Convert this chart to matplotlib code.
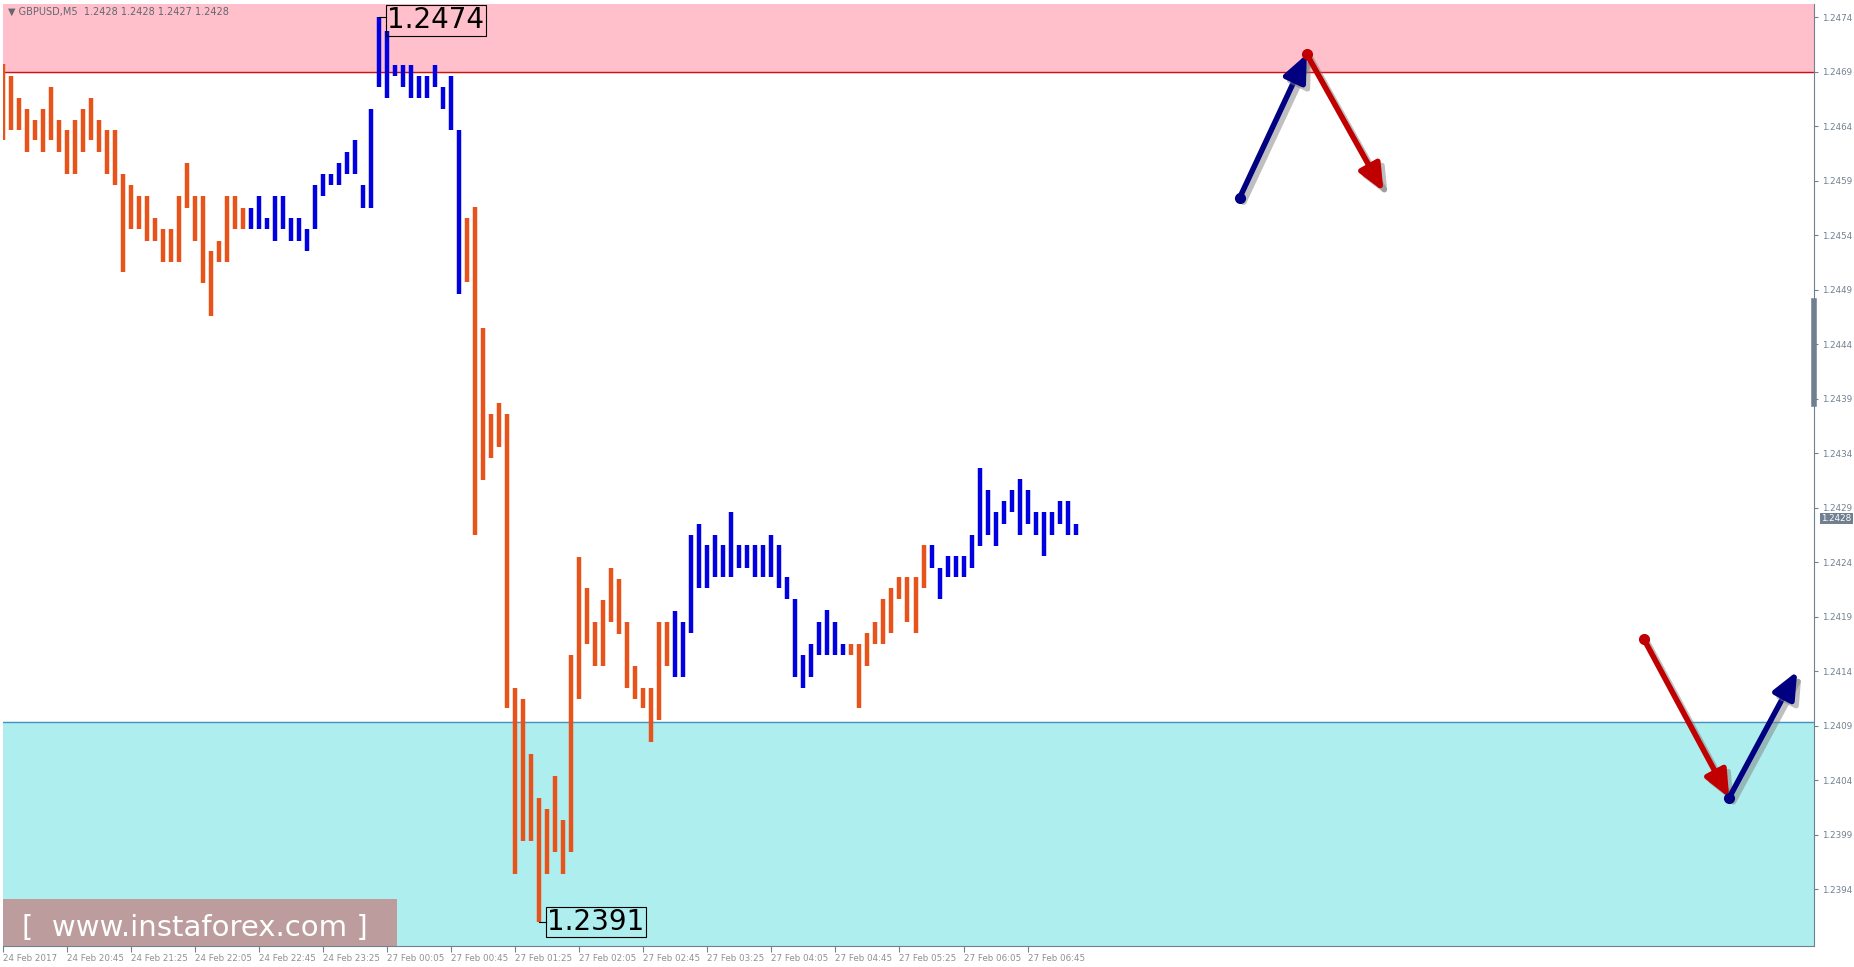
import matplotlib
matplotlib.use("Agg")
import matplotlib.pyplot as plt
from matplotlib.patches import Rectangle
import matplotlib.patheffects as pe

highs = [1.24697,1.24686,1.24666,1.24656,1.24646,1.24656,1.24676,1.24646,1.24636,1.24646,
         1.24656,1.24666,1.24646,1.24636,1.24636,1.24596,1.24586,1.24576,1.24576,1.24556,
         1.24546,1.24546,1.24576,1.24606,1.24576,1.24576,1.24525,1.24535,1.24576,1.24576,
         1.24565,1.24565,1.24576,1.24556,1.24576,1.24576,1.24556,1.24556,1.24546,1.24586,
         1.24596,1.24596,1.24606,1.24616,1.24627,1.24586,1.24656,1.2474,1.24727,1.24696,
         1.24696,1.24696,1.24686,1.24686,1.24696,1.24676,1.24686,1.24636,1.24556,1.24566,
         1.24455,1.24376,1.24386,1.24376,1.24125,1.24115,1.24064,1.24024,1.24014,1.24044,
         1.24004,1.24155,1.24245,1.24216,1.24185,1.24205,1.24235,1.24225,1.24185,1.24145,
         1.24125,1.24125,1.24185,1.24185,1.24195,1.24185,1.24265,1.24275,1.24256,1.24265,
         1.24256,1.24286,1.24256,1.24256,1.24256,1.24256,1.24265,1.24256,1.24226,1.24206,
         1.24155,1.24165,1.24185,1.24196,1.24185,1.24165,1.24165,1.24165,1.24175,1.24185,
         1.24206,1.24216,1.24226,1.24226,1.24226,1.24256,1.24256,1.24235,1.24246,1.24246,
         1.24246,1.24265,1.24326,1.24306,1.24286,1.24296,1.24306,1.24316,1.24306,1.24286,
         1.24286,1.24286,1.24296,1.24296,1.24275]
lows = [1.24627,1.24636,1.24636,1.24616,1.24627,1.24616,1.24627,1.24616,1.24596,1.24596,
        1.24616,1.24627,1.24616,1.24596,1.24586,1.24506,1.24546,1.24546,1.24535,1.24535,
        1.24515,1.24515,1.24515,1.24565,1.24535,1.24496,1.24466,1.24515,1.24515,1.24546,
        1.24546,1.24546,1.24546,1.24546,1.24535,1.24546,1.24535,1.24535,1.24525,1.24546,
        1.24576,1.24586,1.24586,1.24596,1.24596,1.24565,1.24565,1.24676,1.24666,1.24686,
        1.24676,1.24666,1.24666,1.24666,1.24676,1.24656,1.24636,1.24486,1.24497,1.24265,
        1.24315,1.24336,1.24346,1.24106,1.23954,1.23984,1.23984,1.2391,1.23954,1.23974,
        1.23954,1.23974,1.24115,1.24165,1.24145,1.24145,1.24185,1.24174,1.24125,1.24115,
        1.24106,1.24075,1.24095,1.24145,1.24135,1.24135,1.24175,1.24216,1.24216,1.24226,
        1.24226,1.24226,1.24235,1.24235,1.24226,1.24226,1.24226,1.24216,1.24206,1.24135,
        1.24125,1.24135,1.24155,1.24155,1.24155,1.24155,1.24155,1.24106,1.24145,1.24165,
        1.24165,1.24175,1.24206,1.24185,1.24175,1.24216,1.24235,1.24206,1.24226,1.24226,
        1.24226,1.24235,1.24255,1.24265,1.24255,1.24275,1.24286,1.24265,1.24275,1.24265,
        1.24246,1.24265,1.24275,1.24265,1.24265]
# wave segments: (first bar, last bar, colour key)
segments = [(0, 30, "o"), (31, 57, "b"), (58, 83, "o"), (84, 105, "b"), (106, 115, "o"), (116, 134, "b")]
x_labels = ["24 Feb 2017", "24 Feb 20:45", "24 Feb 21:25", "24 Feb 22:05", "24 Feb 22:45", "24 Feb 23:25",
            "27 Feb 00:05", "27 Feb 00:45", "27 Feb 01:25", "27 Feb 02:05", "27 Feb 02:45", "27 Feb 03:25",
            "27 Feb 04:05", "27 Feb 04:45", "27 Feb 05:25", "27 Feb 06:05", "27 Feb 06:45"]
y_ticks = [1.2394, 1.2399, 1.2404, 1.2409, 1.2414, 1.2419, 1.2424, 1.2429, 1.2434,
           1.2439, 1.2444, 1.2449, 1.2454, 1.2459, 1.2464, 1.2469, 1.2474]
resistance = 1.2469
support = 1.24093
last_price = 1.2428
# forecast arrows (bar position, price)
up_forecast = [(154.5, 1.24574), (162.9, 1.24706), (172.5, 1.24580)]
down_forecast = [(205.0, 1.24170), (215.7, 1.24024), (224.2, 1.24140)]

ORANGE = "#e8531c"
BLUE = "#0000e0"
NAVY = "#000080"
DRED = "#c00000"

fig = plt.figure(figsize=(18.54, 9.67), dpi=100)
fig.patch.set_facecolor("white")
L, R, B, T = 3/1854, 1814/1854, 1 - 946/967, 1 - 4/967
ax = fig.add_axes([L, B, R - L, T - B])
ymin, ymax = 1.23888, 1.24752
xmin, xmax = -0.05, 226.3
ax.set_xlim(xmin, xmax)
ax.set_ylim(ymin, ymax)

ax.axhspan(resistance, ymax, color="#ffc0cb", zorder=0)
ax.axhline(resistance, color="#d01010", lw=1, zorder=1)
ax.axhspan(ymin, support, color="#afeeee", zorder=0)
ax.axhline(support, color="#4a90c0", lw=1, zorder=1)

for a, b, c in segments:
    xs = list(range(a, b + 1))
    ax.vlines(xs, [lows[i] for i in xs], [highs[i] for i in xs],
              colors=ORANGE if c == "o" else BLUE, lw=3.2, zorder=3)

# price labels
ax.plot([47, 47.8], [highs[47], highs[47]], color="black", lw=0.8, zorder=4)
ax.text(48.0, highs[47] - 0.00003, "1.2474", fontsize=20, va="center", ha="left", zorder=5,
        bbox=dict(boxstyle="square,pad=0.05", fc="none", ec="black", lw=0.8))
ax.plot([67, 67.8], [lows[67], lows[67]], color="black", lw=0.8, zorder=4)
ax.text(68.0, lows[67], "1.2391", fontsize=20, va="center", ha="left", zorder=5,
        bbox=dict(boxstyle="square,pad=0.05", fc="none", ec="black", lw=0.8))

shadow = [pe.SimpleLineShadow(offset=(3, -3), shadow_color="gray", alpha=0.5), pe.Normal()]

def arrow(p0, p1, color):
    ax.annotate("", xy=p1, xytext=p0, zorder=6,
                arrowprops=dict(arrowstyle="-|>,head_length=1.6,head_width=0.7", color=color, lw=4,
                                shrinkA=0, shrinkB=0, path_effects=shadow))
    ax.plot([p0[0]], [p0[1]], "o", color=color, ms=7, zorder=7)

arrow(up_forecast[0], up_forecast[1], NAVY)
arrow(up_forecast[1], up_forecast[2], DRED)
arrow(down_forecast[0], down_forecast[1], DRED)
arrow(down_forecast[1], down_forecast[2], NAVY)

# axes styling
for s in ["top", "left"]:
    ax.spines[s].set_visible(False)
ax.spines["right"].set_color("#708090")
ax.spines["bottom"].set_color("#708090")
ax.yaxis.tick_right()
ax.set_yticks(y_ticks)
ax.set_yticklabels([f"{v:.4f}" for v in y_ticks], fontsize=6.3, color="#708090")
ax.tick_params(axis="y", length=3, color="#708090", pad=3)
ax.set_xticks([8 * i for i in range(len(x_labels))])
ax.set_xticklabels(x_labels, fontsize=6.3, color="#909090", ha="left")
ax.tick_params(axis="x", length=4, color="#708090", pad=2)

ax.text(1.004, last_price, "1.2428", transform=ax.get_yaxis_transform(), fontsize=6.3, color="white",
        va="center", ha="left", zorder=8,
        bbox=dict(boxstyle="square,pad=0.15", fc="#708090", ec="none"))
ax.plot([1.0, 1.0], [1.24385, 1.2448], transform=ax.get_yaxis_transform(), color="#708090",
        lw=4, clip_on=False, zorder=8)

fig.text(8/1854, 1 - 12/967, "▼ GBPUSD,M5  1.2428 1.2428 1.2427 1.2428", fontsize=7,
         color="#606870", va="center", ha="left")

# watermark
fig.patches.append(Rectangle((3/1854, 1 - 946/967), 394/1854, 47/967, transform=fig.transFigure,
                             fc="#c08888", ec="none", alpha=0.8, zorder=10))
fig.text(22/1854, 1 - 928/967, "[  www.instaforex.com ]", fontsize=21, color="white", va="center",
         ha="left", zorder=11)

fig.savefig("out.png", dpi=100)
